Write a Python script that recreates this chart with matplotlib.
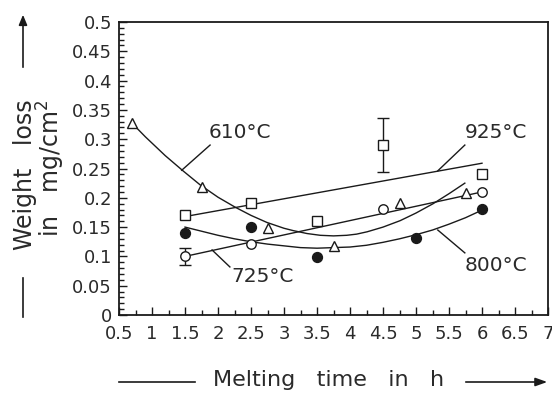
import matplotlib
matplotlib.use("Agg")
import matplotlib.pyplot as plt
from matplotlib.ticker import MultipleLocator, FixedLocator, FixedFormatter

# ---- data ----
# 925 °C (open squares)
sq_x = [1.5, 2.5, 3.5, 4.5, 6.0]
sq_y = [0.171, 0.191, 0.160, 0.290, 0.241]
sq_err_x = [4.5]
sq_err_y = [0.290]
sq_err_lo = [0.046]
sq_err_hi = [0.046]
fit925_x = [1.5, 6.0]
fit925_y = [0.168, 0.259]

# 725 °C (open circles)
oc_x = [1.5, 2.5, 4.5, 6.0]
oc_y = [0.100, 0.121, 0.181, 0.210]
oc_err = [0.014, 0, 0, 0]
fit725_x = [1.5, 6.0]
fit725_y = [0.100, 0.210]

# 610 °C (open triangles)
tr_x = [0.7, 1.75, 2.75, 3.75, 4.75, 5.75]
tr_y = [0.328, 0.219, 0.148, 0.118, 0.191, 0.208]
fit610_x = [0.7, 0.9, 1.2, 1.47, 1.73, 2.0, 2.26, 2.5, 2.74, 3.0, 3.14, 3.35, 3.55,
            3.75, 3.95, 4.1, 4.26, 4.5, 4.76, 5.0, 5.26, 5.5, 5.74]
fit610_y = [0.327, 0.304, 0.272, 0.246, 0.222, 0.201, 0.184, 0.170, 0.158, 0.148, 0.144,
            0.139, 0.136, 0.135, 0.136, 0.138, 0.142, 0.150, 0.161, 0.174, 0.190, 0.207, 0.225]

# 800 °C (filled circles)
fc_x = [1.5, 2.5, 3.5, 5.0, 6.0]
fc_y = [0.140, 0.150, 0.099, 0.131, 0.181]
fit800_x = [1.5, 1.75, 2.0, 2.25, 2.5, 2.75, 3.0, 3.25, 3.5, 3.75, 4.0, 4.25, 4.5,
            4.75, 5.0, 5.25, 5.5, 5.75, 6.0]
fit800_y = [0.150, 0.143, 0.136, 0.130, 0.125, 0.121, 0.118, 0.115, 0.114, 0.115, 0.116,
            0.119, 0.124, 0.130, 0.137, 0.145, 0.155, 0.166, 0.179]

labels = ["610°C", "925°C", "725°C", "800°C"]
label_pos = [(1.86, 0.312), (5.74, 0.312), (2.21, 0.065), (5.74, 0.084)]
leader_start = [(1.88, 0.29), (5.74, 0.29), (2.18, 0.082), (5.74, 0.106)]
leader_end = [(1.45, 0.247), (5.33, 0.246), (1.91, 0.111), (5.33, 0.145)]

x_ticks = [0.5, 1, 1.5, 2, 2.5, 3, 3.5, 4, 4.5, 5, 5.5, 6, 6.5, 7]
x_tick_labels = ["0.5", "1", "1.5", "2", "2.5", "3", "3.5", "4", "4.5", "5", "5.5", "6", "6.5", "7"]
y_ticks = [0, 0.05, 0.1, 0.15, 0.2, 0.25, 0.3, 0.35, 0.4, 0.45, 0.5]
y_tick_labels = ["0", "0.05", "0.1", "0.15", "0.2", "0.25", "0.3", "0.35", "0.4", "0.45", "0.5"]

# ---- figure ----
plt.rcParams['font.family'] = ['DejaVu Sans']
fig = plt.figure(figsize=(5.52, 3.95), dpi=100)
ax = fig.add_axes([119/552, 1-315/395, (548-119)/552, (315-22)/395])

lc = "#1a1a1a"
tc = "#2a2a2a"
lw = 1.0
ms = 6.8

ax.plot(fit925_x, fit925_y, color=lc, lw=lw)
ax.plot(fit725_x, fit725_y, color=lc, lw=lw)
ax.plot(fit610_x, fit610_y, color=lc, lw=lw)
ax.plot(fit800_x, fit800_y, color=lc, lw=lw)

ax.plot(sq_x, sq_y, ls="none", marker="s", ms=ms, mfc="white", mec=lc, mew=1.0, zorder=3)
ax.errorbar(sq_err_x, sq_err_y, yerr=[sq_err_lo, sq_err_hi], fmt="none", ecolor=lc,
            elinewidth=1.0, capsize=4, capthick=1.0, zorder=2)
ax.plot(oc_x, oc_y, ls="none", marker="o", ms=ms, mfc="white", mec=lc, mew=1.0, zorder=3)
ax.errorbar(oc_x[:1], oc_y[:1], yerr=oc_err[:1], fmt="none", ecolor=lc,
            elinewidth=1.0, capsize=4, capthick=1.0, zorder=2)
ax.plot(tr_x, tr_y, ls="none", marker="^", ms=ms+0.5, mfc="white", mec=lc, mew=1.0, zorder=3)
ax.plot(fc_x, fc_y, ls="none", marker="o", ms=ms+0.3, mfc=lc, mec=lc, zorder=3)

for lab, pos, s, e in zip(labels, label_pos, leader_start, leader_end):
    ax.plot([s[0], e[0]], [s[1], e[1]], color=lc, lw=lw)
    ax.text(pos[0], pos[1], lab, fontsize=14.5, ha="left", va="center", color=tc)

ax.set_xlim(0.5, 7)
ax.set_ylim(0, 0.5)
ax.xaxis.set_major_locator(FixedLocator(x_ticks))
ax.xaxis.set_major_formatter(FixedFormatter(x_tick_labels))
ax.yaxis.set_major_locator(FixedLocator(y_ticks))
ax.yaxis.set_major_formatter(FixedFormatter(y_tick_labels))
ax.xaxis.set_minor_locator(MultipleLocator(0.25))
ax.yaxis.set_minor_locator(MultipleLocator(0.01))
ax.tick_params(which="both", direction="in", top=False, right=False, color=lc,
               labelcolor=tc, labelsize=13, width=1.0)
ax.tick_params(which="major", length=6, pad=5)
ax.tick_params(which="minor", length=3.5)
ax.tick_params(axis="x", which="major", pad=7)
for sp in ax.spines.values():
    sp.set_linewidth(1.3)
    sp.set_color(lc)

# y axis label with arrow
fig.text(25/552, 1-175/395, "Weight   loss", rotation=90, fontsize=17, ha="center", va="center", color=tc)
fig.text(51/552, 1-168/395, "in   mg/cm$^2$", rotation=90, fontsize=17, ha="center", va="center", color=tc)
fig.add_artist(plt.Line2D([23/552, 23/552], [1-278/395, 1-317/395], color=lc, lw=1.2))
fig.patches.append(matplotlib.patches.FancyArrowPatch(
    (23/552, 1-70/395), (23/552, 1-12/395), transform=fig.transFigure,
    arrowstyle="-|>,head_length=6,head_width=2.5", color=lc, lw=1.2))

# x axis label with arrow
fig.text(329/552, 1-380/395, "Melting   time   in   h", fontsize=16, ha="center", va="center", color=tc)
fig.add_artist(plt.Line2D([119/552, 195/552], [1-382/395, 1-382/395], color=lc, lw=1.2))
fig.patches.append(matplotlib.patches.FancyArrowPatch(
    (463/552, 1-382/395), (550/552, 1-382/395), transform=fig.transFigure,
    arrowstyle="-|>,head_length=7,head_width=2.5", color=lc, lw=1.2))

fig.savefig("out.png", dpi=100)
